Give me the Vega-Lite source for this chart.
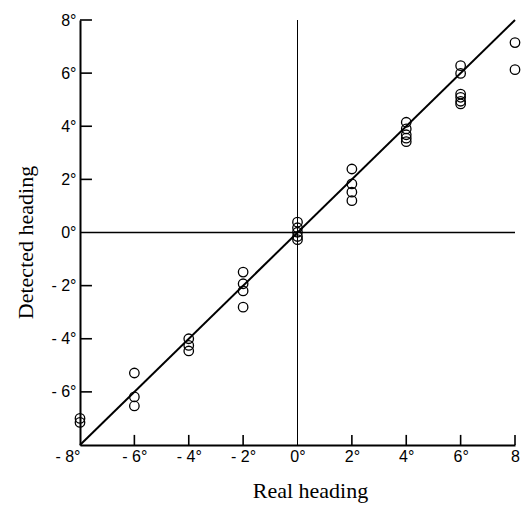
{
  "$schema": "https://vega.github.io/schema/vega-lite/v6.json",
  "width": 435,
  "height": 425,
  "autosize": "none",
  "padding": {"left": 80, "top": 20, "right": 6, "bottom": 62},
  "background": "white",
  "config": {
    "view": {"stroke": null},
    "axis": {
      "grid": false,
      "domainColor": "black",
      "domainWidth": 2,
      "labelFont": "Liberation Sans",
      "labelFontSize": 16,
      "labelColor": "black",
      "titleFont": "Liberation Serif",
      "titleFontSize": 22,
      "titleFontWeight": "normal",
      "titleColor": "black"
    }
  },
  "datasets": {
    "pts": [
      {"real": -8, "detected": -7.0},
      {"real": -8, "detected": -7.15},
      {"real": -6, "detected": -5.29},
      {"real": -6, "detected": -6.19},
      {"real": -6, "detected": -6.53},
      {"real": -4, "detected": -4.0},
      {"real": -4, "detected": -4.25},
      {"real": -4, "detected": -4.46},
      {"real": -2, "detected": -1.49},
      {"real": -2, "detected": -1.93},
      {"real": -2, "detected": -2.2},
      {"real": -2, "detected": -2.81},
      {"real": 0, "detected": 0.39},
      {"real": 0, "detected": 0.18},
      {"real": 0, "detected": 0.01},
      {"real": 0, "detected": -0.15},
      {"real": 0, "detected": -0.27},
      {"real": 2, "detected": 2.39},
      {"real": 2, "detected": 1.83},
      {"real": 2, "detected": 1.52},
      {"real": 2, "detected": 1.2},
      {"real": 4, "detected": 4.15},
      {"real": 4, "detected": 3.9},
      {"real": 4, "detected": 3.68},
      {"real": 4, "detected": 3.55},
      {"real": 4, "detected": 3.42},
      {"real": 6, "detected": 6.28},
      {"real": 6, "detected": 5.99},
      {"real": 6, "detected": 5.21},
      {"real": 6, "detected": 5.09},
      {"real": 6, "detected": 4.94},
      {"real": 6, "detected": 4.84},
      {"real": 8, "detected": 7.15},
      {"real": 8, "detected": 6.13}
    ],
    "diag": [{"real": -8, "detected": -8}, {"real": 8, "detected": 8}],
    "ref": [{"real": 0, "detected": 0}],
    "xticks": [{"real": -6}, {"real": -4}, {"real": -2}, {"real": 2}, {"real": 4}, {"real": 6}, {"real": 8}],
    "yticks": [{"detected": -6}, {"detected": -4}, {"detected": -2}, {"detected": 2}, {"detected": 4}, {"detected": 6}, {"detected": 8}]
  },
  "layer": [
    {
      "data": {"name": "pts"},
      "mark": {"type": "point", "shape": "circle", "filled": false, "color": "black", "size": 90, "strokeWidth": 1.3, "opacity": 1},
      "encoding": {
        "x": {
          "field": "real",
          "type": "quantitative",
          "scale": {"domain": [-8, 8], "nice": false, "zero": false},
          "axis": {
            "orient": "bottom",
            "title": "Real heading",
            "values": [-8, -6, -4, -2, 0, 2, 4, 6, 8],
            "labelExpr": "(datum.value < 0 ? '- ' + (-datum.value) : '' + datum.value) + (datum.value == 8 ? '' : '°')",
            "ticks": false,
            "labelPadding": 3,
            "labelFlush": false,
            "labelAlign": {"condition": {"test": "datum.value == -8", "value": "right"}, "value": "center"},
            "labelBaseline": "top",
            "titleX": 230,
            "titleY": 52,
            "titleBaseline": "alphabetic",
            "titleAnchor": "middle",
            "titleAlign": "center"
          }
        },
        "y": {
          "field": "detected",
          "type": "quantitative",
          "scale": {"domain": [-8, 8], "nice": false, "zero": false},
          "axis": {
            "orient": "left",
            "title": "Detected heading",
            "values": [-6, -4, -2, 0, 2, 4, 6, 8],
            "labelExpr": "(datum.value < 0 ? '- ' + (-datum.value) : '' + datum.value) + '°'",
            "ticks": false,
            "labelPadding": 4,
            "labelFlush": false,
            "titleX": -43,
            "titleY": 222,
            "titleAlign": "center",
            "titleAngle": -90,
            "titleBaseline": "bottom"
          }
        }
      }
    },
    {
      "data": {"name": "ref"},
      "mark": {"type": "rule", "color": "black", "strokeWidth": 1},
      "encoding": {"x": {"field": "real", "type": "quantitative"}}
    },
    {
      "data": {"name": "ref"},
      "mark": {"type": "rule", "color": "black", "strokeWidth": 1.5},
      "encoding": {"y": {"field": "detected", "type": "quantitative"}}
    },
    {
      "data": {"name": "diag"},
      "mark": {"type": "line", "color": "black", "strokeWidth": 2},
      "encoding": {
        "x": {"field": "real", "type": "quantitative"},
        "y": {"field": "detected", "type": "quantitative"}
      }
    },
    {
      "data": {"name": "xticks"},
      "mark": {"type": "rule", "color": "black", "strokeWidth": 1.6},
      "encoding": {
        "x": {"field": "real", "type": "quantitative"},
        "y": {"datum": -8, "type": "quantitative"},
        "y2": {"datum": -7.62}
      }
    },
    {
      "data": {"name": "yticks"},
      "mark": {"type": "rule", "color": "black", "strokeWidth": 1.6},
      "encoding": {
        "x": {"datum": -8, "type": "quantitative"},
        "x2": {"datum": -7.56},
        "y": {"field": "detected", "type": "quantitative"}
      }
    }
  ]
}
